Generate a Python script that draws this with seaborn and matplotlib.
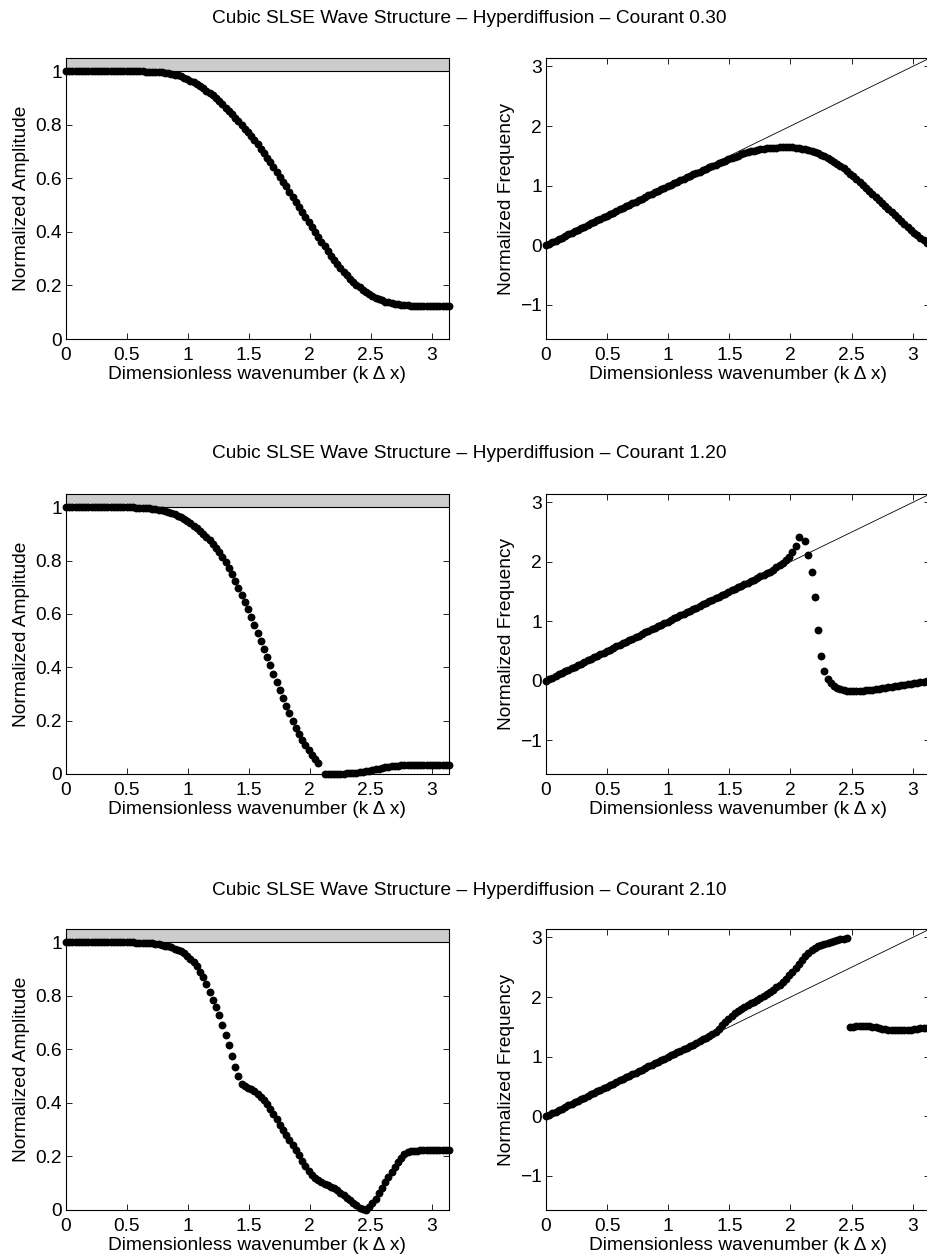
import numpy as np
import pandas as pd
import matplotlib
matplotlib.use("Agg")
import matplotlib.pyplot as plt
import seaborn as sns
from matplotlib.ticker import FuncFormatter

nan = float("nan")

# Wavenumber grid k*dx, 121 samples over [0, pi]
k_dx = np.linspace(0.0, np.pi, 121)

courant_labels = ["0.30", "1.20", "2.10"]

# ---- Courant 0.30 ----
amp_c030 = [
    1.000, 1.000, 1.000, 1.000, 1.000, 1.000, 1.000, 1.000, 1.000, 1.000,
    1.000, 1.000, 1.000, 1.000, 1.000, 1.000, 1.000, 1.000, 1.000, 1.000,
    1.000, 1.000, 1.000, 1.000, 1.000, 0.999, 0.999, 0.999, 0.998, 0.997,
    0.996, 0.995, 0.993, 0.991, 0.988, 0.985, 0.981, 0.976, 0.971, 0.965,
    0.959, 0.952, 0.945, 0.937, 0.928, 0.919, 0.910, 0.899, 0.888, 0.877,
    0.865, 0.853, 0.840, 0.827, 0.814, 0.800, 0.786, 0.772, 0.758, 0.743,
    0.727, 0.711, 0.695, 0.678, 0.660, 0.642, 0.624, 0.606, 0.588, 0.570,
    0.551, 0.532, 0.513, 0.494, 0.475, 0.457, 0.438, 0.419, 0.400, 0.381,
    0.363, 0.346, 0.329, 0.312, 0.296, 0.281, 0.266, 0.252, 0.238, 0.226,
    0.214, 0.203, 0.193, 0.184, 0.176, 0.168, 0.161, 0.155, 0.149, 0.144,
    0.140, 0.137, 0.134, 0.132, 0.130, 0.128, 0.127, 0.126, 0.125, 0.125,
    0.124, 0.124, 0.124, 0.123, 0.123, 0.123, 0.123, 0.123, 0.123, 0.123, 0.123,
]
freq_c030 = [
    0.000, 0.026, 0.052, 0.079, 0.105, 0.131, 0.157, 0.183, 0.209, 0.236,
    0.262, 0.288, 0.314, 0.340, 0.367, 0.393, 0.419, 0.445, 0.471, 0.497,
    0.524, 0.550, 0.576, 0.602, 0.628, 0.654, 0.681, 0.707, 0.733, 0.759,
    0.785, 0.811, 0.837, 0.863, 0.889, 0.914, 0.940, 0.966, 0.991, 1.017,
    1.042, 1.067, 1.092, 1.116, 1.141, 1.165, 1.189, 1.213, 1.237, 1.260,
    1.284, 1.307, 1.330, 1.354, 1.377, 1.399, 1.421, 1.443, 1.465, 1.486,
    1.506, 1.525, 1.543, 1.559, 1.574, 1.587, 1.598, 1.608, 1.617, 1.624,
    1.630, 1.636, 1.640, 1.643, 1.645, 1.646, 1.645, 1.641, 1.635, 1.627,
    1.619, 1.608, 1.595, 1.579, 1.561, 1.541, 1.517, 1.492, 1.464, 1.434,
    1.402, 1.368, 1.331, 1.291, 1.249, 1.204, 1.157, 1.109, 1.060, 1.010,
    0.960, 0.909, 0.858, 0.807, 0.756, 0.705, 0.654, 0.603, 0.553, 0.503,
    0.453, 0.404, 0.355, 0.307, 0.260, 0.214, 0.170, 0.127, 0.086, 0.046, 0.005,
]

# ---- Courant 1.20 ----
amp_c120 = [
    1.000, 1.000, 1.000, 1.000, 1.000, 1.000, 1.000, 1.000, 1.000, 1.000,
    1.000, 1.000, 1.000, 1.000, 1.000, 1.000, 1.000, 1.000, 1.000, 1.000,
    1.000, 1.000, 0.999, 0.999, 0.998, 0.997, 0.996, 0.995, 0.993, 0.991,
    0.989, 0.986, 0.983, 0.979, 0.974, 0.969, 0.963, 0.956, 0.948, 0.940,
    0.931, 0.922, 0.912, 0.901, 0.889, 0.877, 0.864, 0.849, 0.833, 0.815,
    0.796, 0.774, 0.750, 0.725, 0.699, 0.673, 0.646, 0.618, 0.589, 0.560,
    0.530, 0.500, 0.469, 0.438, 0.407, 0.376, 0.345, 0.314, 0.284, 0.255,
    0.227, 0.200, 0.174, 0.150, 0.128, 0.108, 0.090, 0.073, 0.057, 0.040,
    nan, 0.001, 0.000, 0.000, 0.000, 0.000, 0.001, 0.001, 0.002, 0.003,
    0.004, 0.005, 0.007, 0.009, 0.011, 0.013, 0.016, 0.018, 0.020, 0.023,
    0.025, 0.027, 0.029, 0.030, 0.031, 0.032, 0.033, 0.034, 0.034, 0.035,
    0.035, 0.035, 0.035, 0.035, 0.035, 0.035, 0.035, 0.035, 0.035, 0.035, 0.035,
]
freq_c120 = [
    0.000, 0.026, 0.052, 0.079, 0.105, 0.131, 0.157, 0.183, 0.209, 0.236,
    0.262, 0.288, 0.314, 0.340, 0.367, 0.393, 0.419, 0.445, 0.471, 0.497,
    0.524, 0.550, 0.576, 0.602, 0.628, 0.654, 0.681, 0.707, 0.733, 0.759,
    0.785, 0.812, 0.838, 0.864, 0.890, 0.916, 0.942, 0.969, 0.995, 1.021,
    1.047, 1.073, 1.100, 1.126, 1.152, 1.178, 1.204, 1.230, 1.257, 1.283,
    1.309, 1.335, 1.361, 1.388, 1.414, 1.440, 1.466, 1.492, 1.518, 1.545,
    1.571, 1.597, 1.623, 1.649, 1.676, 1.702, 1.728, 1.754, 1.780, 1.806,
    1.833, 1.870, 1.905, 1.940, 1.980, 2.025, 2.080, 2.170, 2.270, 2.420,
    nan, 2.350, 2.110, 1.830, 1.410, 0.850, 0.410, 0.170, 0.035, -0.040,
    -0.090, -0.125, -0.148, -0.162, -0.170, -0.174, -0.175, -0.175, -0.173, -0.169,
    -0.163, -0.157, -0.150, -0.142, -0.134, -0.126, -0.118, -0.110, -0.102, -0.094,
    -0.086, -0.078, -0.070, -0.062, -0.054, -0.046, -0.037, -0.027, -0.018, -0.009, 0.000,
]

# ---- Courant 2.10 ----
amp_c210 = [
    1.000, 1.000, 1.000, 1.000, 1.000, 1.000, 1.000, 1.000, 1.000, 1.000,
    1.000, 1.000, 1.000, 1.000, 1.000, 1.000, 1.000, 1.000, 1.000, 1.000,
    1.000, 1.000, 0.999, 0.999, 0.998, 0.998, 0.997, 0.996, 0.994, 0.993,
    0.991, 0.988, 0.985, 0.981, 0.977, 0.972, 0.966, 0.959, 0.950, 0.939,
    0.926, 0.910, 0.891, 0.869, 0.843, 0.814, 0.786, 0.759, 0.728, 0.692,
    0.655, 0.615, 0.574, 0.534, 0.499, 0.471, 0.463, 0.457, 0.451, 0.444,
    0.435, 0.424, 0.411, 0.396, 0.378, 0.359, 0.339, 0.319, 0.300, 0.281,
    0.262, 0.243, 0.224, 0.204, 0.184, 0.163, 0.145, 0.131, 0.120, 0.111,
    0.103, 0.097, 0.092, 0.087, 0.081, 0.073, 0.065, 0.056, 0.046, 0.036,
    0.026, 0.017, 0.009, 0.003, 0.000, 0.010, 0.025, 0.042, 0.062, 0.083,
    0.103, 0.123, 0.143, 0.162, 0.180, 0.196, 0.208, 0.215, 0.219, 0.221,
    0.222, 0.223, 0.223, 0.224, 0.224, 0.224, 0.225, 0.225, 0.225, 0.225, 0.225,
]
freq_c210 = [
    0.000, 0.026, 0.052, 0.079, 0.105, 0.131, 0.157, 0.183, 0.209, 0.236,
    0.262, 0.288, 0.314, 0.340, 0.367, 0.393, 0.419, 0.445, 0.471, 0.497,
    0.524, 0.550, 0.576, 0.602, 0.628, 0.654, 0.681, 0.707, 0.733, 0.759,
    0.785, 0.812, 0.838, 0.864, 0.890, 0.916, 0.942, 0.969, 0.995, 1.021,
    1.047, 1.073, 1.100, 1.126, 1.152, 1.178, 1.204, 1.230, 1.262, 1.291,
    1.320, 1.350, 1.381, 1.418, 1.465, 1.525, 1.585, 1.640, 1.690, 1.735,
    1.772, 1.805, 1.835, 1.865, 1.895, 1.925, 1.955, 1.985, 2.020, 2.055,
    2.090, 2.125, 2.165, 2.210, 2.260, 2.310, 2.365, 2.425, 2.490, 2.555,
    2.620, 2.685, 2.740, 2.785, 2.825, 2.855, 2.878, 2.897, 2.915, 2.930,
    2.945, 2.958, 2.970, 2.980, 2.990, 1.492, 1.500, 1.507, 1.512, 1.515,
    1.515, 1.512, 1.505, 1.495, 1.483, 1.471, 1.460, 1.451, 1.445, 1.441,
    1.440, 1.441, 1.444, 1.448, 1.454, 1.461, 1.468, 1.475, 1.482, 1.489, 1.496,
]

amplitudes = [amp_c030, amp_c120, amp_c210]
frequencies = [freq_c030, freq_c120, freq_c210]

# Exact (non-dispersive) relation omega = k, drawn as a thin reference line
exact_k = [0.0, np.pi]
exact_omega = [0.0, np.pi]

# Shaded region marking amplification above 1
band_lo, band_hi = 1.0, 1.05

amp_ticks = [0, 0.2, 0.4, 0.6, 0.8, 1.0]
freq_ticks = [-1, 0, 1, 2, 3]
k_ticks = [0, 0.5, 1, 1.5, 2, 2.5, 3]

sns.set_theme(style="ticks")
plt.rcParams["font.family"] = ["Liberation Sans", "DejaVu Sans"]
plt.rcParams.update({
    "axes.linewidth": 0.8,
    "axes.edgecolor": "black",
    "xtick.color": "black",
    "ytick.color": "black",
    "text.color": "black",
    "axes.labelcolor": "black",
})

FS = 13.8
DOT = 32

fig = plt.figure(figsize=(9.28, 12.58), dpi=100)
W, H = 928.0, 1258.0

row_tops = [58, 494, 929]
row_bottoms = [339, 774, 1210]
title_baselines = [23, 458, 895]

fmt = FuncFormatter(lambda v, pos: f"{v:g}".replace("-", "\u2212"))


def style_axes(ax, yticks, ylabel, ylabel_x):
    ax.set_xlim(0, np.pi)
    ax.set_xticks(k_ticks)
    ax.set_yticks(yticks)
    ax.xaxis.set_major_formatter(fmt)
    ax.yaxis.set_major_formatter(fmt)
    ax.tick_params(direction="in", top=True, right=True, length=4,
                   width=0.6, labelsize=FS, pad=3)
    ax.tick_params(axis="x", pad=6)
    ax.set_xlabel("Dimensionless wavenumber (k \u0394 x)", fontsize=FS)
    ax.set_ylabel(ylabel, fontsize=FS)
    ax.xaxis.set_label_coords(0.5, -0.097)
    ax.yaxis.set_label_coords(ylabel_x, 0.5)
    for sp in ax.spines.values():
        sp.set_visible(True)
        sp.set_linewidth(0.8)


for r in range(3):
    bottom = 1 - row_bottoms[r] / H
    height = (row_bottoms[r] - row_tops[r]) / H

    # Amplitude panel
    axl = fig.add_axes([66 / W, bottom, 383 / W, height])
    axl.axhspan(band_lo, band_hi, facecolor="#cccccc", edgecolor="none", zorder=1)
    axl.axhline(band_lo, color="black", lw=0.8, zorder=1.5)
    df_a = pd.DataFrame({"k": k_dx, "amp": amplitudes[r]})
    sns.scatterplot(data=df_a, x="k", y="amp", color="black", s=DOT,
                    linewidth=0, ax=axl, clip_on=False, zorder=3, legend=False)
    axl.set_ylim(0, band_hi)
    style_axes(axl, amp_ticks, "Normalized Amplitude", -0.093)

    # Frequency panel
    axr = fig.add_axes([546 / W, bottom, 384 / W, height])
    axr.plot(exact_k, exact_omega, color="black", lw=0.6, zorder=2)
    df_f = pd.DataFrame({"k": k_dx, "omega": frequencies[r]})
    sns.scatterplot(data=df_f, x="k", y="omega", color="black", s=DOT,
                    linewidth=0, ax=axr, clip_on=False, zorder=3, legend=False)
    axr.set_ylim(-np.pi / 2, np.pi)
    style_axes(axr, freq_ticks, "Normalized Frequency", -0.082)

    fig.text(469.5 / W, 1 - title_baselines[r] / H,
             f"Cubic SLSE Wave Structure \u2013 Hyperdiffusion \u2013 Courant {courant_labels[r]}",
             ha="center", va="baseline", fontsize=FS)

fig.savefig("out.png", dpi=100)
